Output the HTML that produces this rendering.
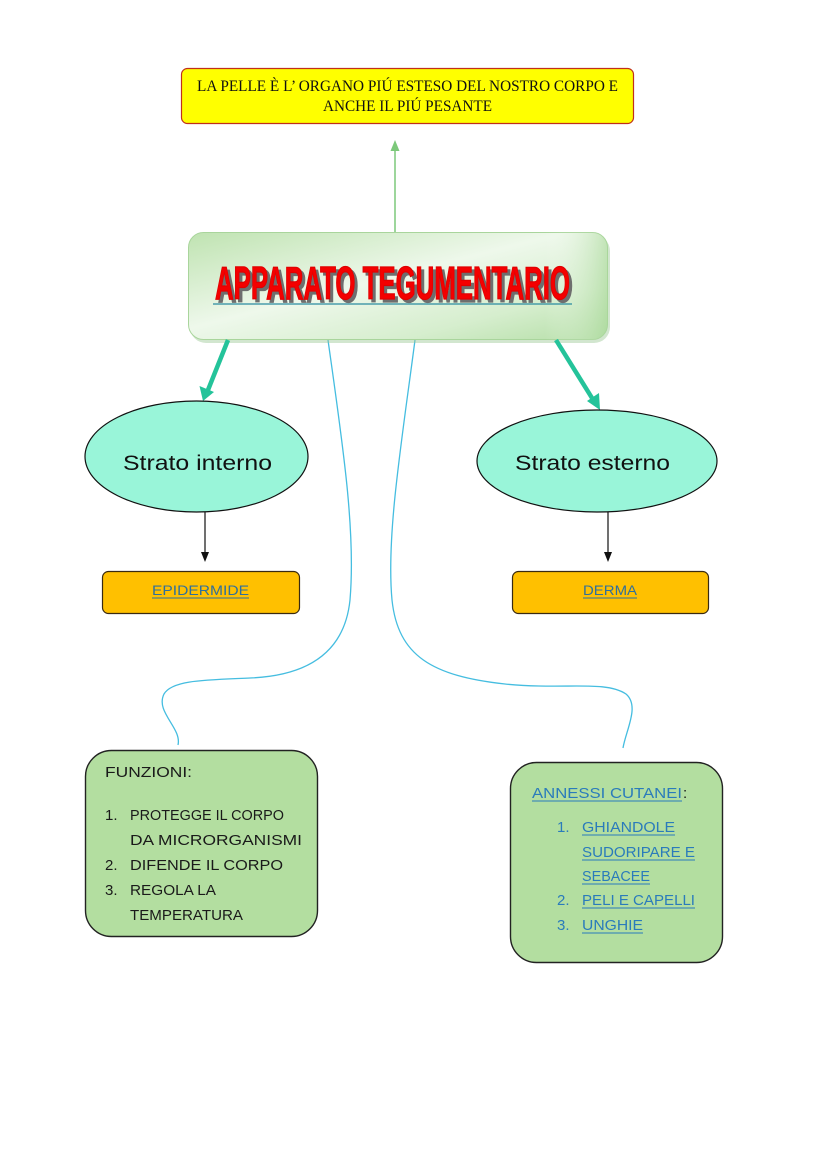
<!DOCTYPE html>
<html>
<head>
<meta charset="utf-8">
<style>
html,body{margin:0;padding:0;background:#fff;}
body{width:827px;height:1170px;overflow:hidden;}
svg{display:block;}
.cs{font-family:"Liberation Sans",sans-serif;}
</style>
</head>
<body>
<svg width="827" height="1170" viewBox="0 0 827 1170" xmlns="http://www.w3.org/2000/svg">
<defs>
<linearGradient id="mg" x1="0" y1="0" x2="1" y2="1">
<stop offset="0" stop-color="#bfe3b1"/>
<stop offset="0.45" stop-color="#eef8eb"/>
<stop offset="0.75" stop-color="#d6eece"/>
<stop offset="1" stop-color="#b4dea6"/>
</linearGradient>
<linearGradient id="mg2" x1="0" y1="0" x2="1" y2="0">
<stop offset="0" stop-color="#ffffff" stop-opacity="0"/>
<stop offset="0.85" stop-color="#ffffff" stop-opacity="0"/>
<stop offset="1" stop-color="#a8d898" stop-opacity="0.6"/>
</linearGradient>
</defs>

<!-- top yellow box -->
<rect x="181.5" y="68.5" width="452" height="55" rx="6" fill="#ffff00" stroke="#c0301a" stroke-width="1.2"/>
<text x="407.5" y="91" text-anchor="middle" font-family="'Liberation Serif',serif" font-size="15.5" fill="#111" textLength="421" lengthAdjust="spacingAndGlyphs">LA PELLE È L’ ORGANO PIÚ ESTESO DEL NOSTRO CORPO E</text>
<text x="407.5" y="111" text-anchor="middle" font-family="'Liberation Serif',serif" font-size="15.5" fill="#111" textLength="169" lengthAdjust="spacingAndGlyphs">ANCHE IL PIÚ PESANTE</text>

<!-- green arrow up -->
<line x1="395" y1="233" x2="395" y2="150" stroke="#7cc87a" stroke-width="1.5"/>
<polygon points="395,140 390.5,151 399.5,151" fill="#7cc87a"/>

<!-- blue curves -->
<path d="M328,340 C342,440 356,530 350,600 C344,658 300,676 250,678 C205,680 172,680 164,694 C155,712 182,728 178,745" fill="none" stroke="#45bde0" stroke-width="1.3"/>
<path d="M415,340 C402,440 386,535 392,600 C398,656 432,676 505,684 C565,690 605,680 626,694 C640,706 626,730 623,748" fill="none" stroke="#45bde0" stroke-width="1.3"/>

<!-- main box -->
<rect x="190" y="235" width="420" height="108" rx="16" fill="#9cc894" opacity="0.45"/>
<rect x="188.5" y="232.5" width="419" height="107" rx="15" fill="url(#mg)" stroke="#a9d59c" stroke-width="1"/>
<rect x="188.5" y="232.5" width="419" height="107" rx="15" fill="url(#mg2)"/>
<line x1="213" y1="304" x2="572" y2="304" stroke="#2a8aa0" stroke-width="1.2"/>
<text x="218" y="302" font-family="'Liberation Sans Narrow','Liberation Sans',sans-serif" font-weight="bold" font-size="46" fill="#6e6e6e" stroke="#6e6e6e" stroke-width="1.2" textLength="355" lengthAdjust="spacingAndGlyphs">APPARATO TEGUMENTARIO</text>
<text x="215" y="299" font-family="'Liberation Sans Narrow','Liberation Sans',sans-serif" font-weight="bold" font-size="46" fill="#f40000" stroke="#e00000" stroke-width="1.2" textLength="355" lengthAdjust="spacingAndGlyphs">APPARATO TEGUMENTARIO</text>

<!-- teal arrows -->
<line x1="228" y1="340" x2="208" y2="390" stroke="#24c39a" stroke-width="4.5"/>
<polygon points="203,401 199.5,386 214,392" fill="#24c39a"/>
<line x1="556" y1="340" x2="592" y2="398" stroke="#24c39a" stroke-width="4.5"/>
<polygon points="600,410 587,401 599,393" fill="#24c39a"/>

<!-- ellipses -->
<ellipse cx="196.5" cy="456.5" rx="111.5" ry="55.5" fill="#99f5d9" stroke="#111" stroke-width="1.2"/>
<text x="123" y="470" class="cs" font-size="21" fill="#111" textLength="149" lengthAdjust="spacingAndGlyphs">Strato interno</text>
<ellipse cx="597" cy="461" rx="120" ry="51" fill="#99f5d9" stroke="#111" stroke-width="1.2"/>
<text x="515" y="470" class="cs" font-size="21" fill="#111" textLength="155" lengthAdjust="spacingAndGlyphs">Strato esterno</text>

<!-- black arrows -->
<line x1="205" y1="512" x2="205" y2="554" stroke="#111" stroke-width="1.2"/>
<polygon points="205,562 201,552 209,552" fill="#111"/>
<line x1="608" y1="512" x2="608" y2="554" stroke="#111" stroke-width="1.2"/>
<polygon points="608,562 604,552 612,552" fill="#111"/>

<!-- orange boxes -->
<rect x="102.5" y="571.5" width="197" height="42" rx="6" fill="#ffc000" stroke="#3a2a10" stroke-width="1.2"/>
<text x="152" y="595" class="cs" font-size="14" fill="#2f6f9c" textLength="97" lengthAdjust="spacingAndGlyphs">EPIDERMIDE</text>
<line x1="152" y1="598" x2="249" y2="598" stroke="#2f6f9c" stroke-width="1"/>
<rect x="512.5" y="571.5" width="196" height="42" rx="6" fill="#ffc000" stroke="#3a2a10" stroke-width="1.2"/>
<text x="583" y="595" class="cs" font-size="14" fill="#2f6f9c" textLength="54" lengthAdjust="spacingAndGlyphs">DERMA</text>
<line x1="583" y1="598" x2="637" y2="598" stroke="#2f6f9c" stroke-width="1"/>

<!-- left green box -->
<rect x="85.5" y="750.5" width="232" height="186" rx="26" fill="#b3dea0" stroke="#222" stroke-width="1.4"/>
<g class="cs" font-size="15" fill="#1a1a1a">
<text x="105" y="777" textLength="87" lengthAdjust="spacingAndGlyphs">FUNZIONI:</text>
<text x="105" y="820">1.</text>
<text x="130" y="820" textLength="154" lengthAdjust="spacingAndGlyphs">PROTEGGE IL CORPO</text>
<text x="130" y="845" textLength="172" lengthAdjust="spacingAndGlyphs">DA MICRORGANISMI</text>
<text x="105" y="870">2.</text>
<text x="130" y="870" textLength="153" lengthAdjust="spacingAndGlyphs">DIFENDE IL CORPO</text>
<text x="105" y="895">3.</text>
<text x="130" y="895" textLength="86" lengthAdjust="spacingAndGlyphs">REGOLA LA</text>
<text x="130" y="920" textLength="113" lengthAdjust="spacingAndGlyphs">TEMPERATURA</text>
</g>

<!-- right green box -->
<rect x="510.5" y="762.5" width="212" height="200" rx="26" fill="#b3dea0" stroke="#222" stroke-width="1.4"/>
<g class="cs" font-size="15" fill="#2a7bbb">
<text x="532" y="798" textLength="150" lengthAdjust="spacingAndGlyphs">ANNESSI CUTANEI</text>
<text x="683" y="798" fill="#1a1a1a">:</text>
<line x1="532" y1="801" x2="682" y2="801" stroke="#2a7bbb" stroke-width="1"/>
<text x="557" y="832" fill="#2a7bbb">1.</text>
<text x="582" y="832" textLength="93" lengthAdjust="spacingAndGlyphs">GHIANDOLE</text>
<line x1="582" y1="835" x2="675" y2="835" stroke="#2a7bbb" stroke-width="1"/>
<text x="582" y="857" textLength="113" lengthAdjust="spacingAndGlyphs">SUDORIPARE E</text>
<line x1="582" y1="860" x2="695" y2="860" stroke="#2a7bbb" stroke-width="1"/>
<text x="582" y="881" textLength="68" lengthAdjust="spacingAndGlyphs">SEBACEE</text>
<line x1="582" y1="884" x2="650" y2="884" stroke="#2a7bbb" stroke-width="1"/>
<text x="557" y="905">2.</text>
<text x="582" y="905" textLength="113" lengthAdjust="spacingAndGlyphs">PELI E CAPELLI</text>
<line x1="582" y1="908" x2="695" y2="908" stroke="#2a7bbb" stroke-width="1"/>
<text x="557" y="930">3.</text>
<text x="582" y="930" textLength="61" lengthAdjust="spacingAndGlyphs">UNGHIE</text>
<line x1="582" y1="933" x2="643" y2="933" stroke="#2a7bbb" stroke-width="1"/>
</g>
</svg>
</body>
</html>
